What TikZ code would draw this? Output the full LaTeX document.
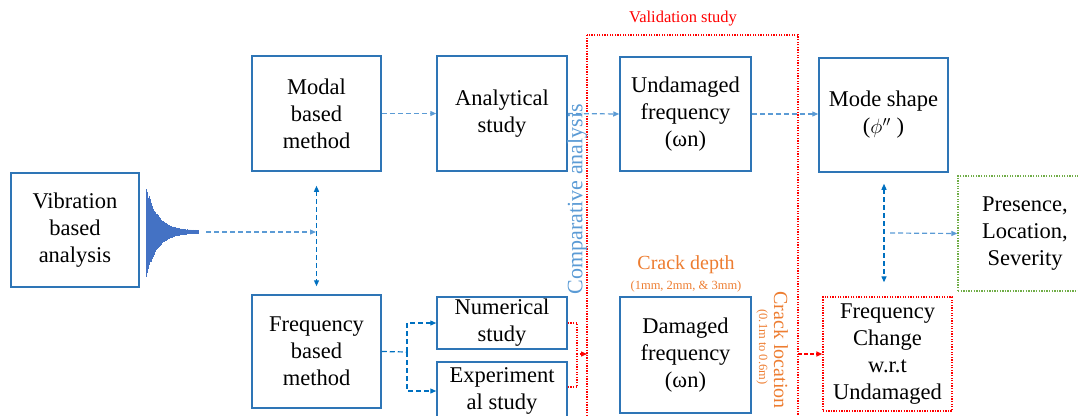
\documentclass[tikz,border=0pt]{standalone}
\usepackage{fontspec}
\setmainfont{Liberation Serif}
\usetikzlibrary{arrows.meta}
\definecolor{boxblue}{RGB}{46,117,182}
\definecolor{linkblue}{RGB}{91,155,213}
\definecolor{darkblue}{RGB}{0,112,192}
\definecolor{waveblue}{RGB}{68,114,196}
\definecolor{crackorange}{RGB}{237,125,49}
\definecolor{presgreen}{RGB}{112,173,71}
\tikzset{
  box/.style={draw=boxblue, line width=1.5pt, align=center, inner sep=1pt,
    font=\fontsize{22.5}{27}\selectfont},
  redbox/.style={box, draw=red, line width=1.3pt, dash pattern=on 1.3pt off 1.3pt},
  greenbox/.style={box, draw=presgreen, line width=1.3pt, dash pattern=on 1.3pt off 1.3pt},
  tip/.style={-{Triangle[length=6pt,width=5pt]}},
  link/.style={draw=linkblue, dash pattern=on 5pt off 3pt, line width=1.2pt, tip},
  biglink/.style={draw=darkblue, dash pattern=on 5pt off 3pt, line width=1.2pt,
    {Triangle[length=6pt,width=5pt]}-{Triangle[length=6pt,width=5pt]}},
  redlink/.style={draw=red, line width=1.3pt, dash pattern=on 1.3pt off 1.3pt},
  note/.style={font=\fontsize{20}{24}\selectfont},
  smallnote/.style={font=\fontsize{12.5}{14}\selectfont}
}
\begin{document}
\begin{tikzpicture}[x=1pt,y=-1pt]
\useasboundingbox (0,0) rectangle (1078,415);
% left column
\node[box, minimum width=128pt, minimum height=114pt] (vib) at (75,230) {Vibration\\based\\analysis};
% decaying vibration signal
\foreach \t in {0,0.4,...,52}
  \draw[waveblue, line width=0.5pt] (146+\t, {232-45*exp(-\t/11)*(0.55+0.45*abs(sin(\t*157)))-1.5})
    -- (146+\t, {232+45*exp(-\t/11)*(0.55+0.45*abs(sin(\t*211)))+1.5});
\coordinate (waveE) at (206,232);
\coordinate (split) at (316,232);
% methods
\node[box, minimum width=129pt, minimum height=115pt] (modal) at (316.5,113.5) {Modal\\based\\method};
\node[box, minimum width=129pt, minimum height=113pt] (freq) at (316.5,351.5) {Frequency\\based\\method};
\node[box, minimum width=130pt, minimum height=115pt] (ana) at (502,113.5) {Analytical\\study};
\node[box, minimum width=130pt, minimum height=52pt] (num) at (502,323) {Numerical\\study};
\node[box, minimum width=130pt, minimum height=58pt] (exp) at (502,391) {Experiment\\al study};
% validation study
\draw[redlink] (587,35) rectangle (798,430);
\node[red, font=\fontsize{16.5}{20}\selectfont] (valtitle) at (683,19) {Validation study};
\coordinate (valW) at (587,354);
\coordinate (valE) at (798,354);
\coordinate (join) at (577,354);
\node[box, minimum width=131pt, minimum height=114pt] (undam) at (685.5,114) {Undamaged\\frequency\\(ωn)};
\node[box, minimum width=131pt, minimum height=116pt] (dam) at (685.5,355) {Damaged\\frequency\\(ωn)};
\node[note, crackorange] (depth) at (686,265) {Crack depth};
\node[smallnote, crackorange] (depthval) at (686,286) {(1mm, 2mm, \& 3mm)};
\node[note, crackorange, rotate=-90] (loc) at (781,350) {Crack location};
\node[smallnote, crackorange, rotate=-90] (locval) at (762,347) {(0.1m to 0.6m)};
\node[linkblue, font=\fontsize{22}{26}\selectfont, rotate=90] (comp) at (577,199) {Comparative analysis};
% results
\node[box, minimum width=129pt, minimum height=114pt] (mode) at (883.5,115) {Mode shape\\($\phi''$ )};
\node[redbox, minimum width=129pt, minimum height=114pt] (fchange) at (887.5,354) {Frequency\\Change\\w.r.t\\Undamaged};
\node[greenbox, minimum width=134pt, minimum height=115pt] (pres) at (1025,233.5) {Presence,\\Location,\\Severity};
\coordinate (mid) at (884,233);
% connectors
\draw[link] (waveE) -- (split);
\draw[biglink] ([yshift=-14pt]modal.south) -- ([yshift=8pt]freq.north);
\draw[link] (modal.east) -- (ana.west);
\draw[link] (ana.east) -- (undam.west);
\draw[link] (undam.east) -- (undam.east -| mode.west);
\draw[link, draw=darkblue, -] (freq.east) -- (407,352);
\draw[link, draw=darkblue] (407,352) |- (num.west);
\draw[link, draw=darkblue] (407,352) |- (exp.west);
\draw[redlink] (num.east) -| (join);
\draw[redlink] (exp.east |- 0,387) -| (join);
\draw[redlink, tip] (join) -- (valW);
\draw[redlink, dash pattern=on 4pt off 2pt, tip] (valE) -- (fchange.west);
\draw[biglink] ([yshift=-11pt]mode.south -| mid) -- ([yshift=14pt]fchange.north -| mid);
\draw[link] ([xshift=6pt]mid) -- (pres.west);
\end{tikzpicture}
\end{document}
